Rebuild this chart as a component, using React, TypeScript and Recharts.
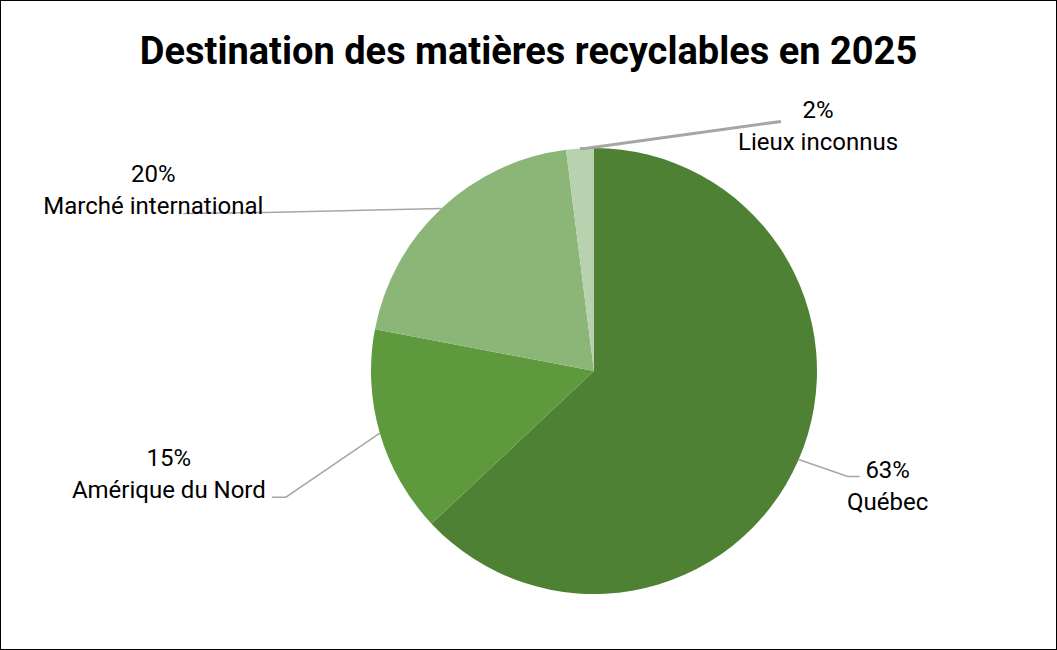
import { PieChart, Pie, Cell } from "recharts";

const categories = ["Québec", "Amérique du Nord", "Marché international", "Lieux inconnus"];
const shares = [63, 15, 20, 2];
const sliceColors = ["#4e8133", "#5e9a3d", "#8bb678", "#b8d2b0"];
const pctLabels = ["63%", "15%", "20%", "2%"];

// leader line layout per slice, relative to the point on the arc
const labelLayout = [
  { elbow: [49, 17], end: [61, 17], text: [89, 18], stroke: 1.5 },
  { elbow: [-94, 64], end: [-108, 64], text: [-211, 33], stroke: 1.5 },
  { elbow: [-176, 4], end: [-258, 5], text: [-288, -26], stroke: 1.5 },
  { elbow: [5, 0], end: [201, -27], text: [238, -30], stroke: 3 },
];

const chartData = categories.map((name, i) => ({ name, value: shares[i] }));

const FONT = "Roboto, 'Noto Sans', sans-serif";

const renderLabel = (props: any) => {
  const { cx, cy, midAngle, outerRadius, index } = props;
  const RAD = Math.PI / 180;
  const x0 = cx + outerRadius * Math.cos(-midAngle * RAD);
  const y0 = cy + outerRadius * Math.sin(-midAngle * RAD);
  const l = labelLayout[index];
  const pts = `${x0},${y0} ${x0 + l.elbow[0]},${y0 + l.elbow[1]} ${x0 + l.end[0]},${y0 + l.end[1]}`;
  const tx = x0 + l.text[0];
  const ty = y0 + l.text[1];
  return (
    <g key={`lbl-${index}`}>
      <polyline points={pts} fill="none" stroke="#a6a6a6" strokeWidth={l.stroke} />
      <text x={tx} y={ty} textAnchor="middle" fontFamily={FONT} fontSize={24} fill="#000">
        <tspan x={tx} dy={0}>{pctLabels[index]}</tspan>
        <tspan x={tx} dy={32}>{categories[index]}</tspan>
      </text>
    </g>
  );
};

export default function App() {
  return (
    <div
      style={{
        position: "absolute",
        left: 0,
        top: 0,
        width: 1055,
        height: 648,
        border: "1px solid #000",
        background: "#fff",
      }}
    >
      <div
        style={{
          position: "absolute",
          left: 0,
          right: 0,
          top: 26,
          textAlign: "center",
          fontFamily: FONT,
          fontWeight: 700,
          fontSize: 38,
          lineHeight: "48px",
          color: "#000",
        }}
      >
        Destination des matières recyclables en 2025
      </div>
      <PieChart
        width={1055}
        height={648}
        margin={{ top: 0, right: 0, bottom: 0, left: 0 }}
        style={{ position: "absolute", left: 0, top: 0 }}
      >
        <Pie
          data={chartData}
          dataKey="value"
          nameKey="name"
          cx={593}
          cy={370}
          outerRadius={223}
          startAngle={90}
          endAngle={-270}
          stroke="none"
          label={renderLabel}
          labelLine={false}
          isAnimationActive={false}
        >
          {chartData.map((entry, index) => (
            <Cell key={`cell-${index}`} fill={sliceColors[index]} />
          ))}
        </Pie>
      </PieChart>
    </div>
  );
}
